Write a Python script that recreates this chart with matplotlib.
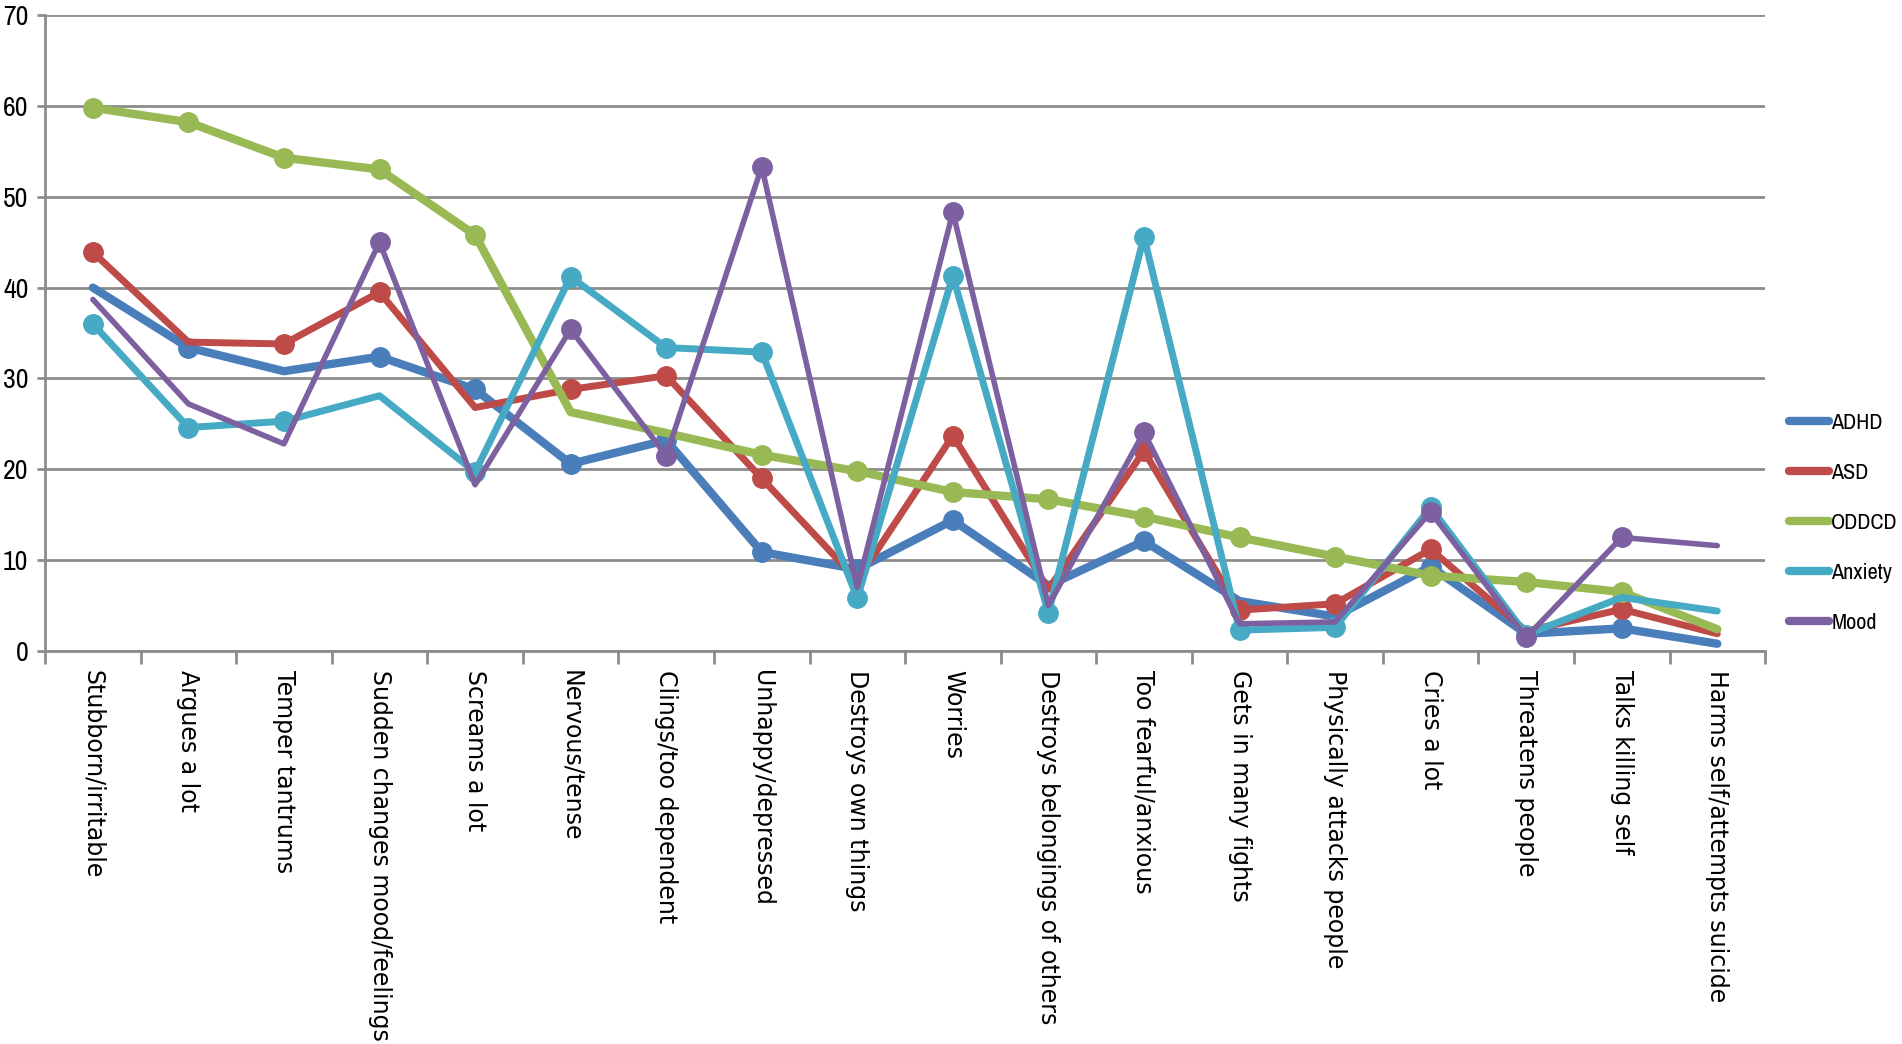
import matplotlib
matplotlib.use("Agg")
import matplotlib.pyplot as plt
import numpy as np
from matplotlib import font_manager

categories = ["Stubborn/irritable", "Argues a lot", "Temper tantrums",
              "Sudden changes mood/feelings", "Screams a lot", "Nervous/tense",
              "Clings/too dependent", "Unhappy/depressed", "Destroys own things",
              "Worries", "Destroys belongings of others", "Too fearful/anxious",
              "Gets in many fights", "Physically attacks people", "Cries a lot",
              "Threatens people", "Talks killing self", "Harms self/attempts suicide"]

adhd    = [40.0, 33.4, 30.8, 32.4, 28.8, 20.6, 23.2, 10.9, 9.0, 14.4, 7.2, 12.1, 5.5, 3.8, 9.3, 1.9, 2.5, 0.8]
asd     = [43.9, 34.0, 33.8, 39.5, 26.8, 28.8, 30.3, 19.0, 7.8, 23.7, 6.8, 22.0, 4.5, 5.2, 11.2, 2.2, 4.6, 1.9]
oddcd   = [59.8, 58.2, 54.3, 53.0, 45.8, 26.3, 24.0, 21.6, 19.8, 17.5, 16.7, 14.8, 12.5, 10.4, 8.3, 7.6, 6.5, 2.4]
anxiety = [36.0, 24.6, 25.3, 28.1, 19.7, 41.2, 33.4, 32.9, 5.8, 41.3, 4.2, 45.6, 2.3, 2.6, 15.8, 1.8, 5.9, 4.4]
mood    = [38.7, 27.2, 22.8, 45.0, 18.3, 35.4, 21.5, 53.3, 7.0, 48.3, 5.0, 24.1, 3.0, 3.2, 15.3, 1.5, 12.5, 11.6]

series = ["ADHD", "ASD", "ODDCD", "Anxiety", "Mood"]
colors = ["#4a7ebb", "#be4b48", "#98b954", "#46aac5", "#7d60a0"]
widths = [6, 5, 6, 5, 4]
# points that carry a marker in the original
marks = [
    [1, 3, 4, 5, 6, 7, 8, 9, 11, 14, 16],
    [0, 2, 3, 5, 6, 7, 9, 11, 12, 13, 14, 16],
    [0, 1, 2, 3, 4, 7, 8, 9, 10, 11, 12, 13, 14, 15, 16],
    [0, 1, 2, 4, 5, 6, 7, 8, 9, 10, 11, 12, 13, 14, 15],
    [3, 5, 6, 7, 9, 11, 14, 15, 16],
]

names = {f.name for f in font_manager.fontManager.ttflist}
narrow = "DejaVu Sans"
for cand in ["Liberation Sans Narrow", "Archivo Narrow", "PT Sans Narrow"]:
    if cand in names:
        narrow = cand
        break

fig = plt.figure(figsize=(19.02, 10.44), dpi=100)
ax = fig.add_axes([0.0237, 0.3764, 0.9043, 0.6092])

x = np.arange(len(categories))
data = [adhd, asd, oddcd, anxiety, mood]
for name, vals, c, lw, mk in zip(series, data, colors, widths, marks):
    ax.plot(x, vals, color=c, lw=lw, label=name, marker="o", markersize=14,
            markevery=mk, solid_joinstyle="round", solid_capstyle="round")

ax.set_xlim(-0.5, len(categories) - 0.5)
ax.set_ylim(0, 70)
ax.set_yticks(range(0, 71, 10))
ax.yaxis.grid(True, color="#8c8c8c", lw=2)
ax.set_axisbelow(True)
for s in ["top", "right"]:
    ax.spines[s].set_visible(False)
for s in ["left", "bottom"]:
    ax.spines[s].set_color("#8c8c8c")
    ax.spines[s].set_linewidth(2)

ax.set_xticks(np.arange(-0.5, len(categories), 1.0))
ax.set_xticklabels([])
ax.set_xticks(x, minor=True)
ax.set_xticklabels(categories, minor=True, rotation=270, fontsize=17,
                   va="top", ha="center")
ax.tick_params(axis="x", which="major", length=9, width=2, color="#8c8c8c")
ax.tick_params(axis="x", which="minor", length=0, pad=14)
ax.tick_params(axis="y", length=6, width=2, color="#8c8c8c", pad=6)
for t in ax.get_yticklabels():
    t.set_fontfamily(narrow)
    t.set_fontsize(20)

leg = ax.legend(loc="center left", bbox_to_anchor=(1.014, 0.202), frameon=False,
                handlelength=1.8, handletextpad=0.1, labelspacing=1.35,
                borderaxespad=0, borderpad=0, prop={"family": narrow, "size": 16})
for h in leg.legend_handles:
    h.set_marker("")
    h.set_linewidth(6)

fig.savefig("out.png", dpi=100)
